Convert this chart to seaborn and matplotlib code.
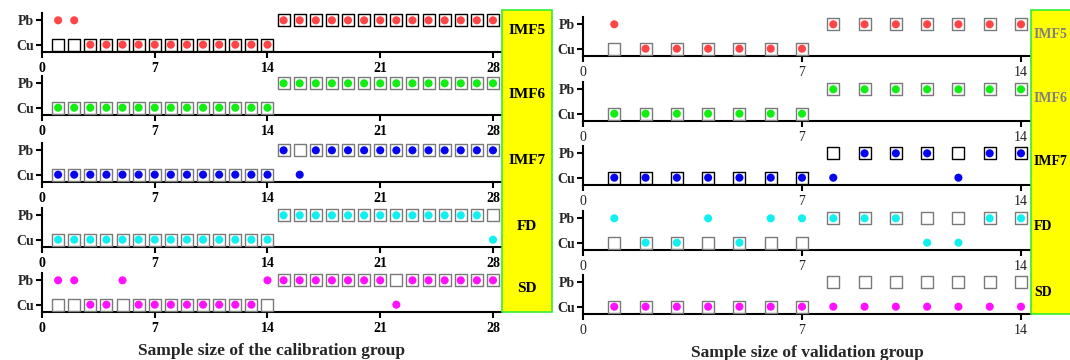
import matplotlib
matplotlib.use("Agg")
import matplotlib.pyplot as plt
from matplotlib.patches import Rectangle
import pandas as pd
import seaborn as sns

sns.set_style("ticks")
plt.rcParams["font.family"] = ["Liberation Serif", "DejaVu Serif"]

# ---- data -------------------------------------------------------------
features = ["IMF5", "IMF6", "IMF7", "FD", "SD"]
class_names = ["Cu", "Pb"]          # 0 = Cu, 1 = Pb
point_colors = ["#FF4545", "#11EE11", "#0505F0", "#11F0F0", "#FF11FF"]

# calibration group: 28 samples
cal_samples = list(range(1, 29))
cal_true = [0, 0, 0, 0, 0, 0, 0, 0, 0, 0, 0, 0, 0, 0,
            1, 1, 1, 1, 1, 1, 1, 1, 1, 1, 1, 1, 1, 1]
cal_pred = {
    "IMF5": [1, 1, 0, 0, 0, 0, 0, 0, 0, 0, 0, 0, 0, 0,
             1, 1, 1, 1, 1, 1, 1, 1, 1, 1, 1, 1, 1, 1],
    "IMF6": [0, 0, 0, 0, 0, 0, 0, 0, 0, 0, 0, 0, 0, 0,
             1, 1, 1, 1, 1, 1, 1, 1, 1, 1, 1, 1, 1, 1],
    "IMF7": [0, 0, 0, 0, 0, 0, 0, 0, 0, 0, 0, 0, 0, 0,
             1, 0, 1, 1, 1, 1, 1, 1, 1, 1, 1, 1, 1, 1],
    "FD":   [0, 0, 0, 0, 0, 0, 0, 0, 0, 0, 0, 0, 0, 0,
             1, 1, 1, 1, 1, 1, 1, 1, 1, 1, 1, 1, 1, 0],
    "SD":   [1, 1, 0, 0, 1, 0, 0, 0, 0, 0, 0, 0, 0, 1,
             1, 1, 1, 1, 1, 1, 1, 0, 1, 1, 1, 1, 1, 1],
}
cal_ticks = [0, 7, 14, 21, 28]

# validation group: 14 samples
val_samples = list(range(1, 15))
val_true = [0, 0, 0, 0, 0, 0, 0, 1, 1, 1, 1, 1, 1, 1]
val_pred = {
    "IMF5": [1, 0, 0, 0, 0, 0, 0, 1, 1, 1, 1, 1, 1, 1],
    "IMF6": [0, 0, 0, 0, 0, 0, 0, 1, 1, 1, 1, 1, 1, 1],
    "IMF7": [0, 0, 0, 0, 0, 0, 0, 0, 1, 1, 1, 0, 1, 1],
    "FD":   [1, 0, 0, 1, 0, 1, 1, 1, 1, 1, 0, 0, 1, 1],
    "SD":   [0, 0, 0, 0, 0, 0, 0, 0, 0, 0, 0, 0, 0, 0],
}
val_ticks = [0, 7, 14]

# ---- layout (pixel geometry of the canvas) ----------------------------
W, H = 1070, 360
fig = plt.figure(figsize=(W / 100, H / 100), dpi=100)


def rect(x0, x1, ytop, ybot):
    return [x0 / W, 1 - ybot / H, (x1 - x0) / W, (ybot - ytop) / H]


GRAY = "#7A7A7A"
ROW_H = 39


def draw_group(samples, truth, preds, ticks, x0, x1, xmax, bottoms,
               square_edges, tick_bold, tick_color, xlabel):
    for i, feat in enumerate(features):
        yb = bottoms[i]
        ax = fig.add_axes(rect(x0, x1, yb - ROW_H, yb))
        df = pd.DataFrame({"sample": samples, "true": truth,
                           "pred": preds[feat]})
        sns.scatterplot(data=df, x="sample", y="true", marker="s", s=64,
                        color="white", edgecolor=square_edges[i],
                        linewidth=1.0, ax=ax, zorder=3, clip_on=False)
        sns.scatterplot(data=df, x="sample", y="pred", marker="o", s=34,
                        color=point_colors[i], edgecolor="none",
                        linewidth=0, ax=ax, zorder=4, clip_on=False)
        ax.set_xlim(0, xmax)
        ax.set_ylim(-0.3, 1.3)
        ax.set_yticks([0, 1])
        ax.set_yticklabels(class_names, fontsize=10, fontweight="bold")
        ax.set_xticks(ticks)
        ax.set_xticklabels([str(t) for t in ticks], fontsize=10,
                           fontweight="bold" if tick_bold else "normal",
                           color=tick_color)
        ax.set_ylabel("")
        ax.set_xlabel("")
        for s in ("top", "right"):
            ax.spines[s].set_visible(False)
        for s in ("left", "bottom"):
            ax.spines[s].set_linewidth(1.5)
            ax.spines[s].set_color("black")
        ax.tick_params(axis="both", direction="out", length=4, width=1.5,
                       color="black", pad=2)
        ax.tick_params(axis="x", pad=3)
        ax.patch.set_alpha(0)
        if i == len(features) - 1:
            ax.set_xlabel(xlabel, fontsize=12.5, fontweight="bold",
                          labelpad=6)


draw_group(cal_samples, cal_true, cal_pred, cal_ticks,
           42, 502, 28.56, [52, 115, 182, 247, 312],
           ["black", GRAY, GRAY, GRAY, GRAY], True, "black",
           "Sample size of the calibration group")

draw_group(val_samples, val_true, val_pred, val_ticks,
           583, 1031, 14.32, [56, 121, 185, 250, 314],
           [GRAY, GRAY, "black", GRAY, GRAY], False, "#222222",
           "Sample size of validation group")


# feature name panels
def label_box(x0, x1, ytop, ybot, ys, xs, ha, colors, size):
    fig.add_artist(Rectangle((x0 / W, 1 - ybot / H), (x1 - x0) / W,
                             (ybot - ytop) / H, transform=fig.transFigure,
                             facecolor="#FFFF00", edgecolor="#33EE33",
                             linewidth=1.2, clip_on=False))
    for feat, y, c in zip(features, ys, colors):
        fig.text(xs / W, 1 - y / H, feat, ha=ha, va="center",
                 fontsize=size, fontweight="bold", color=c)


label_box(502, 552, 10, 312, [30, 95, 160, 226, 289], 527, "center",
          ["black"] * 5, 11)
label_box(1031, 1090, 10, 314, [34, 98, 162, 227, 293], 1034, "left",
          ["#808080", "#808080", "black", "black", "black"], 10)

fig.savefig("out.png", dpi=100)
